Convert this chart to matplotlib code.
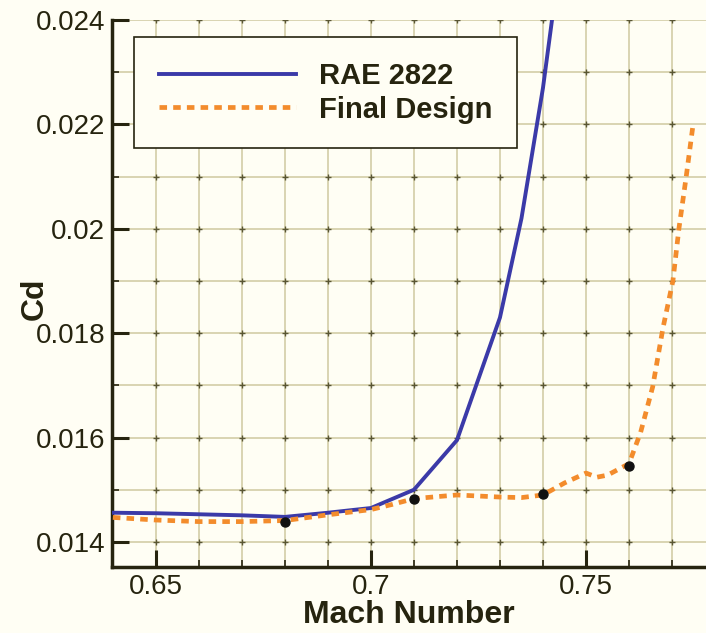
import matplotlib
matplotlib.use("Agg")
import matplotlib.pyplot as plt
import numpy as np
from matplotlib.ticker import MultipleLocator, FixedLocator

plt.rcParams["font.family"] = ["Liberation Sans", "DejaVu Sans"]

# drag polar vs Mach number, baseline airfoil and optimised design
mach_rae = [0.64, 0.65, 0.66, 0.67, 0.68, 0.69, 0.70, 0.71, 0.72, 0.73, 0.735, 0.74, 0.745]
cd_rae = [0.01456, 0.01455, 0.01453, 0.01451, 0.01448, 0.01456, 0.01465, 0.01500, 0.01595,
          0.01830, 0.02020, 0.02270, 0.02580]

mach_final = [0.64, 0.65, 0.66, 0.67, 0.68, 0.69, 0.70, 0.705, 0.71, 0.72, 0.73, 0.735, 0.74,
              0.745, 0.75, 0.7525, 0.755, 0.76, 0.7627, 0.7655, 0.7679, 0.7702, 0.7716,
              0.7733, 0.7749]
cd_final = [0.01447, 0.01442, 0.01439, 0.01439, 0.01441, 0.01452, 0.01462, 0.01472, 0.01483,
            0.01490, 0.01486, 0.01485, 0.01490, 0.01513, 0.01532, 0.01524, 0.01528, 0.01550,
            0.01610, 0.01697, 0.01810, 0.01900, 0.02000, 0.02100, 0.02200]

# computed design points on the final airfoil curve
mach_pts = [0.68, 0.71, 0.74, 0.76]
cd_pts = [0.01439, 0.01482, 0.01492, 0.01546]

x_major = [0.65, 0.7, 0.75]
y_major = [0.014, 0.016, 0.018, 0.02, 0.022, 0.024]
x_labels = ["0.65", "0.7", "0.75"]
y_labels = ["0.014", "0.016", "0.018", "0.02", "0.022", "0.024"]

BG = "#fffef4"
INK = "#26240f"
GRID = "#cfc9a0"

fig = plt.figure(figsize=(7.06, 6.33), dpi=100, facecolor=BG)
ax = fig.add_axes([112 / 706, 66 / 633, 1 - 112 / 706, 547 / 633])
ax.set_facecolor(BG)

ax.plot(mach_rae, cd_rae, color="#3b3aa8", lw=2.8, label="RAE 2822", zorder=3)
ax.plot(mach_final, cd_final, color="#f38c2c", lw=3.4, ls=(0, (1.6, 1.3)),
        label="Final Design", zorder=4)
ax.plot(mach_pts, cd_pts, "o", color="#111111", ms=6.5, zorder=5)

ax.set_xlim(0.6398, 0.7779)
ax.set_ylim(0.01352, 0.024)

ax.xaxis.set_major_locator(FixedLocator(x_major))
ax.xaxis.set_minor_locator(MultipleLocator(0.01))
ax.yaxis.set_major_locator(FixedLocator(y_major))
ax.yaxis.set_minor_locator(MultipleLocator(0.001))
ax.set_xticklabels(x_labels)
ax.set_yticklabels(y_labels)

ax.grid(True, which="both", color=GRID, lw=1.1)
ax.set_axisbelow(True)

# darker knots where the grid lines cross
gx = np.arange(0.65, 0.775, 0.01)
gy = np.arange(0.014, 0.0245, 0.001)
kx, ky = np.meshgrid(gx, gy)
ax.plot(kx.ravel(), ky.ravel(), "+", color="#5a5634", ms=5, mew=1.0, zorder=1.5)

ax.tick_params(which="major", direction="in", length=12, width=2.2, color=INK,
               labelsize=20, labelcolor=INK, pad=5)
ax.tick_params(which="minor", direction="in", length=5, width=1.2, color=INK)
ax.tick_params(top=False, right=False, which="both")

for side in ("top", "right"):
    ax.spines[side].set_visible(False)
for side in ("left", "bottom"):
    ax.spines[side].set_linewidth(2.5)
    ax.spines[side].set_color(INK)

ax.set_xlabel("Mach Number", fontsize=23, fontweight="bold", color=INK, labelpad=0)
ax.set_ylabel("Cd", fontsize=23, fontweight="bold", color=INK)
ax.yaxis.set_label_coords(-62 / 594, 0.49)

leg = ax.legend(loc="upper left", bbox_to_anchor=(22 / 594, 1 - 17 / 547),
                prop={"weight": "bold", "size": 21}, handlelength=4.7, handletextpad=0.8,
                labelspacing=0.2, borderpad=0.85, borderaxespad=0, fancybox=False,
                framealpha=1, edgecolor=INK, facecolor=BG)
leg.get_frame().set_linewidth(1.2)
for t in leg.get_texts():
    t.set_color(INK)

fig.savefig("out.png", dpi=100, facecolor=BG)
